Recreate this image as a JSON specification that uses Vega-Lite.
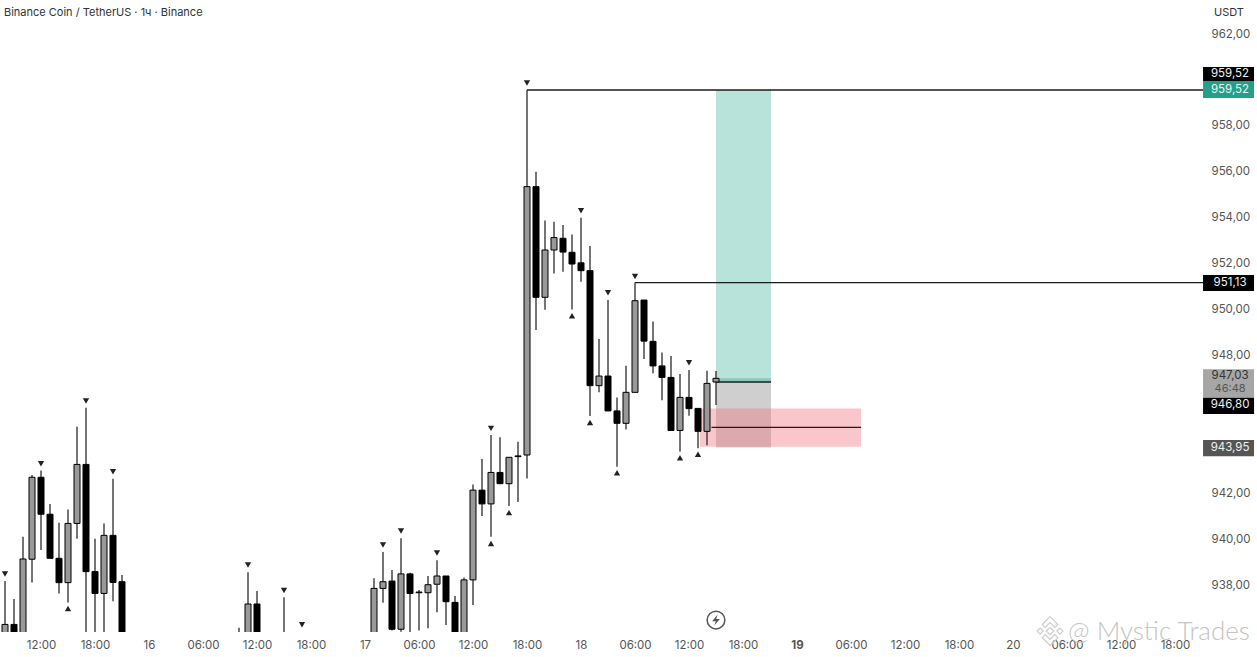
{"$schema":"https://vega.github.io/schema/vega-lite/v6.json","width":1257,"height":632,"autosize":{"type":"none"},"padding":{"left":0,"top":0,"right":0,"bottom":25},"background":"#ffffff","config":{"view":{"stroke":null},"font":"Inter"},"resolve":{"scale":{"color":"independent","shape":"independent"}},"datasets":{"candles":[
{"t":"2025-10-15T08:00:00Z","high":938.13,"open":935.5,"close":936.24,"low":935.5},
{"t":"2025-10-15T09:00:00Z","high":937.35,"open":936.24,"close":935.5,"low":935.5},
{"t":"2025-10-15T10:00:00Z","high":940.06,"open":935.5,"close":939.09,"low":935.5},
{"t":"2025-10-15T11:00:00Z","high":942.75,"open":939.08,"close":942.65,"low":938.07},
{"t":"2025-10-15T12:00:00Z","high":942.94,"open":942.65,"close":941.04,"low":939.48},
{"t":"2025-10-15T13:00:00Z","high":941.49,"open":941.04,"close":939.12,"low":939.12},
{"t":"2025-10-15T14:00:00Z","high":940.67,"open":939.12,"close":938.06,"low":937.59},
{"t":"2025-10-15T15:00:00Z","high":941.25,"open":938.06,"close":940.64,"low":937.2},
{"t":"2025-10-15T16:00:00Z","high":944.85,"open":940.64,"close":943.21,"low":939.97},
{"t":"2025-10-15T17:00:00Z","high":945.68,"open":943.21,"close":938.54,"low":935.5},
{"t":"2025-10-15T18:00:00Z","high":939.97,"open":938.54,"close":937.59,"low":935.5},
{"t":"2025-10-15T19:00:00Z","high":940.64,"open":937.59,"close":940.12,"low":935.5},
{"t":"2025-10-15T20:00:00Z","high":942.59,"open":940.12,"close":938.07,"low":937.25},
{"t":"2025-10-15T21:00:00Z","high":938.39,"open":938.1,"close":935.5,"low":935.5},
{"t":"2025-10-16T10:00:00Z","high":936.09,"open":935.2,"close":935.0,"low":934.9},
{"t":"2025-10-16T11:00:00Z","high":938.51,"open":935.5,"close":937.13,"low":935.5},
{"t":"2025-10-16T12:00:00Z","high":937.7,"open":937.13,"close":935.5,"low":935.5},
{"t":"2025-10-16T15:00:00Z","high":937.42,"open":935.2,"close":935.0,"low":934.9},
{"t":"2025-10-17T01:00:00Z","high":938.25,"open":935.5,"close":937.81,"low":935.5},
{"t":"2025-10-17T02:00:00Z","high":939.4,"open":937.81,"close":938.1,"low":937.18},
{"t":"2025-10-17T03:00:00Z","high":938.61,"open":938.13,"close":936.03,"low":935.97},
{"t":"2025-10-17T04:00:00Z","high":939.99,"open":936.03,"close":938.44,"low":935.92},
{"t":"2025-10-17T05:00:00Z","high":938.49,"open":938.44,"close":937.59,"low":935.5},
{"t":"2025-10-17T06:00:00Z","high":937.74,"open":937.65,"close":937.62,"low":935.97},
{"t":"2025-10-17T07:00:00Z","high":938.35,"open":937.62,"close":937.97,"low":936.07},
{"t":"2025-10-17T08:00:00Z","high":939.03,"open":937.99,"close":938.35,"low":936.77},
{"t":"2025-10-17T09:00:00Z","high":938.35,"open":938.35,"close":937.23,"low":936.21},
{"t":"2025-10-17T10:00:00Z","high":937.48,"open":937.2,"close":935.5,"low":935.5},
{"t":"2025-10-17T11:00:00Z","high":938.28,"open":935.5,"close":938.18,"low":935.5},
{"t":"2025-10-17T12:00:00Z","high":942.34,"open":938.18,"close":942.09,"low":937.09},
{"t":"2025-10-17T13:00:00Z","high":943.45,"open":942.09,"close":941.49,"low":940.96},
{"t":"2025-10-17T14:00:00Z","high":944.49,"open":941.49,"close":942.86,"low":940.06},
{"t":"2025-10-17T15:00:00Z","high":944.39,"open":942.86,"close":942.37,"low":942.37},
{"t":"2025-10-17T16:00:00Z","high":943.52,"open":942.37,"close":943.52,"low":941.4},
{"t":"2025-10-17T17:00:00Z","high":944.2,"open":943.58,"close":943.55,"low":941.57},
{"t":"2025-10-17T18:00:00Z","high":959.52,"open":943.62,"close":955.31,"low":942.6},
{"t":"2025-10-17T19:00:00Z","high":955.96,"open":955.31,"close":950.49,"low":949.06},
{"t":"2025-10-17T20:00:00Z","high":953.83,"open":950.49,"close":952.55,"low":949.95},
{"t":"2025-10-17T21:00:00Z","high":953.78,"open":952.55,"close":953.09,"low":951.53},
{"t":"2025-10-17T22:00:00Z","high":953.64,"open":953.06,"close":952.46,"low":951.6},
{"t":"2025-10-17T23:00:00Z","high":953.22,"open":952.45,"close":951.94,"low":949.96},
{"t":"2025-10-18T00:00:00Z","high":953.96,"open":951.99,"close":951.65,"low":951.17},
{"t":"2025-10-18T01:00:00Z","high":952.72,"open":951.65,"close":946.64,"low":945.32},
{"t":"2025-10-18T02:00:00Z","high":948.67,"open":946.64,"close":947.06,"low":946.35},
{"t":"2025-10-18T03:00:00Z","high":950.37,"open":947.06,"close":945.54,"low":945.54},
{"t":"2025-10-18T04:00:00Z","high":946.12,"open":945.54,"close":945.0,"low":943.11},
{"t":"2025-10-18T05:00:00Z","high":947.51,"open":945.0,"close":946.35,"low":944.73},
{"t":"2025-10-18T06:00:00Z","high":951.13,"open":946.35,"close":950.34,"low":946.35},
{"t":"2025-10-18T07:00:00Z","high":950.37,"open":950.37,"close":948.58,"low":947.8},
{"t":"2025-10-18T08:00:00Z","high":949.43,"open":948.57,"close":947.5,"low":947.18},
{"t":"2025-10-18T09:00:00Z","high":948.09,"open":947.5,"close":947.0,"low":946.01},
{"t":"2025-10-18T10:00:00Z","high":947.93,"open":947.0,"close":944.69,"low":944.69},
{"t":"2025-10-18T11:00:00Z","high":947.15,"open":944.69,"close":946.13,"low":943.76},
{"t":"2025-10-18T12:00:00Z","high":947.32,"open":946.13,"close":945.64,"low":945.33},
{"t":"2025-10-18T13:00:00Z","high":945.65,"open":945.65,"close":944.65,"low":943.91},
{"t":"2025-10-18T14:00:00Z","high":947.29,"open":944.65,"close":946.74,"low":944.05},
{"t":"2025-10-18T15:00:00Z","high":947.28,"open":946.8,"close":946.96,"low":945.8}
],"pivots":[
{"t":"2025-10-15T08:00:00Z","p":938.44,"side":"above"},
{"t":"2025-10-15T12:00:00Z","p":943.24,"side":"above"},
{"t":"2025-10-15T15:00:00Z","p":936.93,"side":"below"},
{"t":"2025-10-15T17:00:00Z","p":945.97,"side":"above"},
{"t":"2025-10-15T20:00:00Z","p":942.89,"side":"above"},
{"t":"2025-10-16T11:00:00Z","p":938.83,"side":"above"},
{"t":"2025-10-16T15:00:00Z","p":937.72,"side":"above"},
{"t":"2025-10-16T17:00:00Z","p":936.23,"side":"above"},
{"t":"2025-10-17T02:00:00Z","p":939.7,"side":"above"},
{"t":"2025-10-17T04:00:00Z","p":940.31,"side":"above"},
{"t":"2025-10-17T08:00:00Z","p":939.35,"side":"above"},
{"t":"2025-10-17T14:00:00Z","p":944.78,"side":"above"},
{"t":"2025-10-17T14:00:00Z","p":939.77,"side":"below"},
{"t":"2025-10-17T16:00:00Z","p":941.11,"side":"below"},
{"t":"2025-10-17T18:00:00Z","p":959.82,"side":"above"},
{"t":"2025-10-17T23:00:00Z","p":949.69,"side":"below"},
{"t":"2025-10-18T00:00:00Z","p":954.26,"side":"above"},
{"t":"2025-10-18T01:00:00Z","p":945.04,"side":"below"},
{"t":"2025-10-18T03:00:00Z","p":950.69,"side":"above"},
{"t":"2025-10-18T04:00:00Z","p":942.85,"side":"below"},
{"t":"2025-10-18T06:00:00Z","p":951.4,"side":"above"},
{"t":"2025-10-18T11:00:00Z","p":943.5,"side":"below"},
{"t":"2025-10-18T12:00:00Z","p":947.64,"side":"above"},
{"t":"2025-10-18T13:00:00Z","p":943.65,"side":"below"}
],"zones":[
{"start":"2025-10-18T15:00:00Z","end":"2025-10-18T21:07:00Z","top":959.52,"bottom":946.8,"zone":"target"},
{"start":"2025-10-18T15:00:00Z","end":"2025-10-18T21:07:00Z","top":946.96,"bottom":946.8,"zone":"edge"},
{"start":"2025-10-18T15:00:00Z","end":"2025-10-18T21:07:00Z","top":946.8,"bottom":943.95,"zone":"risk"},
{"start":"2025-10-18T13:13:00Z","end":"2025-10-19T07:07:00Z","top":945.65,"bottom":943.98,"zone":"stop"}
],"levels":[
{"start":"2025-10-17T18:00:00Z","end":"2025-10-20T21:07:00Z","p":959.52},
{"start":"2025-10-18T06:00:00Z","end":"2025-10-20T21:07:00Z","p":951.13},
{"start":"2025-10-18T15:00:00Z","end":"2025-10-18T21:07:00Z","p":946.8},
{"start":"2025-10-18T14:30:00Z","end":"2025-10-19T07:07:00Z","p":944.82}
],"tags":[
{"start":"2025-10-20T21:07:00Z","end":"2025-10-21T02:47:00Z","tx":"2025-10-21T00:07:00Z","top":960.52,"bottom":959.91,"kind":"black","mid":960.21,"label":"959,52"},
{"start":"2025-10-20T21:07:00Z","end":"2025-10-21T02:47:00Z","tx":"2025-10-21T00:07:00Z","top":959.91,"bottom":959.17,"kind":"teal","mid":959.52,"label":"959,52"},
{"start":"2025-10-20T21:07:00Z","end":"2025-10-21T02:47:00Z","tx":"2025-10-21T00:07:00Z","top":951.46,"bottom":950.76,"kind":"black","mid":951.11,"label":"951,13"},
{"start":"2025-10-20T21:07:00Z","end":"2025-10-21T02:47:00Z","tx":"2025-10-21T00:07:00Z","top":947.35,"bottom":946.11,"kind":"gray","mid":947.06,"label":"947,03"},
{"start":"2025-10-20T21:07:00Z","end":"2025-10-21T02:47:00Z","tx":"2025-10-21T00:07:00Z","top":946.11,"bottom":945.41,"kind":"black","mid":945.78,"label":"946,80"},
{"start":"2025-10-20T21:07:00Z","end":"2025-10-21T02:47:00Z","tx":"2025-10-21T00:07:00Z","top":944.27,"bottom":943.57,"kind":"slate","mid":943.92,"label":"943,95"}
],"extraText":[
{"t":"2025-10-21T00:07:00Z","p":946.49,"label":"46:48","c":"gray"},
{"t":"2025-10-21T00:00:00Z","p":962.88,"label":"USDT","c":"dark"}
]},
"layer":[
{"data":{"name":"zones"},"mark":{"type":"rect"},"encoding":{"x":{"field":"start","type":"temporal","scale":{"type":"utc","domain":["2025-10-15T07:26:40Z","2025-10-21T03:06:40Z"],"nice":false,"padding":0},"axis":{"orient":"bottom","title":null,"domain":false,"ticks":false,"grid":false,"labelColor":"#555555","labelFont":"Inter","labelFontSize":11.5,"labelPadding":7,"labelFlush":false,"labelOverlap":false,"labelFontWeight":{"condition":{"test":"utcdate(datum.value)==19 && utchours(datum.value)==0","value":"bold"},"value":"normal"},"values":["2025-10-15T12:00:00Z","2025-10-15T18:00:00Z","2025-10-16T00:00:00Z","2025-10-16T06:00:00Z","2025-10-16T12:00:00Z","2025-10-16T18:00:00Z","2025-10-17T00:00:00Z","2025-10-17T06:00:00Z","2025-10-17T12:00:00Z","2025-10-17T18:00:00Z","2025-10-18T00:00:00Z","2025-10-18T06:00:00Z","2025-10-18T12:00:00Z","2025-10-18T18:00:00Z","2025-10-19T00:00:00Z","2025-10-19T06:00:00Z","2025-10-19T12:00:00Z","2025-10-19T18:00:00Z","2025-10-20T00:00:00Z","2025-10-20T06:00:00Z","2025-10-20T12:00:00Z","2025-10-20T18:00:00Z"],"labelExpr":"utchours(datum.value)==0 ? utcFormat(datum.value,'%-d') : utcFormat(datum.value,'%H:%M')"}},"x2":{"field":"end"},"y":{"field":"top","type":"quantitative","scale":{"domain":[935.91,963.44],"nice":false,"zero":false,"padding":0},"axis":{"orient":"right","offset":-46,"title":null,"domain":false,"ticks":false,"grid":false,"labelColor":"#555555","labelFont":"Inter","labelFontSize":11.5,"labelPadding":0,"labelOffset":1,"labelAlign":"left","labelOverlap":false,"values":[938,940,942,948,950,952,954,956,958,962],"labelExpr":"replace(format(datum.value,'.2f'),'.',',')"}},"y2":{"field":"bottom"},"color":{"field":"zone","type":"nominal","legend":null,"scale":{"domain":["target","edge","risk","stop"],"range":["#b8e3db","#8dc7bd","#cfcfcf","rgba(240,112,127,0.4)"]}}}},
{"data":{"name":"levels"},"mark":{"type":"rule","color":"#1c1c1c","strokeWidth":1.3},"encoding":{"x":{"field":"start","type":"temporal"},"x2":{"field":"end"},"y":{"field":"p","type":"quantitative"}}},
{"data":{"name":"candles"},"mark":{"type":"rule","color":"#2b2b2b","strokeWidth":1.3,"clip":true},"encoding":{"x":{"field":"t","type":"temporal"},"y":{"field":"low","type":"quantitative"},"y2":{"field":"high"}}},
{"data":{"name":"candles"},"mark":{"type":"bar","size":6,"stroke":"#000000","strokeWidth":1,"clip":true},"encoding":{"x":{"field":"t","type":"temporal"},"y":{"field":"open","type":"quantitative"},"y2":{"field":"close"},"fill":{"condition":{"test":"datum.close >= datum.open","value":"#999999"},"value":"#000000"}}},
{"data":{"name":"pivots"},"mark":{"type":"point","filled":true,"color":"#222222","size":40,"opacity":1},"encoding":{"x":{"field":"t","type":"temporal"},"y":{"field":"p","type":"quantitative"},"shape":{"field":"side","type":"nominal","legend":null,"scale":{"domain":["above","below"],"range":["triangle-down","triangle-up"]}}}},
{"data":{"name":"tags"},"mark":{"type":"rect"},"encoding":{"x":{"field":"start","type":"temporal"},"x2":{"field":"end"},"y":{"field":"top","type":"quantitative"},"y2":{"field":"bottom"},"color":{"field":"kind","type":"nominal","legend":null,"scale":{"domain":["black","teal","gray","slate"],"range":["#000000","#22a08a","#a6a6a6","#555555"]}}}},
{"data":{"name":"tags"},"mark":{"type":"text","font":"Inter","fontSize":11.5,"align":"center","baseline":"middle"},"encoding":{"x":{"field":"tx","type":"temporal"},"y":{"field":"mid","type":"quantitative"},"text":{"field":"label"},"color":{"condition":{"test":"datum.kind=='gray'","value":"#333333"},"value":"#f0f0f0"}}},
{"data":{"name":"extraText"},"mark":{"type":"text","font":"Inter","fontSize":11,"align":"center","baseline":"middle"},"encoding":{"x":{"field":"t","type":"temporal"},"y":{"field":"p","type":"quantitative"},"text":{"field":"label"},"color":{"condition":{"test":"datum.c=='gray'","value":"#555555"},"value":"#333333"}}},
{"data":{"values":[{"t":"2025-10-15T07:53:00Z","p":962.88,"label":"Binance Coin / TetherUS · 1ч · Binance"}]},"mark":{"type":"text","font":"Inter","fontSize":11,"align":"left","baseline":"middle","color":"#333333"},"encoding":{"x":{"field":"t","type":"temporal"},"y":{"field":"p","type":"quantitative"},"text":{"field":"label"}}},
{"data":{"values":[{"t":"2025-10-18T15:00:00Z","p":936.43}]},"mark":{"type":"point","shape":"circle","filled":false,"stroke":"#555555","strokeWidth":1.5,"size":314,"opacity":1},"encoding":{"x":{"field":"t","type":"temporal"},"y":{"field":"p","type":"quantitative"}}},
{"data":{"values":[{"t":"2025-10-18T15:00:00Z","p":936.43}]},"mark":{"type":"point","shape":"M0.15,-0.5 L-0.35,0.1 L-0.02,0.1 L-0.15,0.5 L0.35,-0.1 L0.02,-0.1 Z","filled":true,"fill":"#555555","size":484,"opacity":1},"encoding":{"x":{"field":"t","type":"temporal"},"y":{"field":"p","type":"quantitative"}}},
{"data":{"values":[{"t":"2025-10-20T04:07:00Z","p":935.95}]},"mark":{"type":"point","shape":"M0,-0.12 L0.12,0 L0,0.12 L-0.12,0 Z M-0.33,-0.1 L-0.23,0 L-0.33,0.1 L-0.43,0 Z M0.33,-0.1 L0.43,0 L0.33,0.1 L0.23,0 Z M0,-0.48 L0.26,-0.22 L0.16,-0.12 L0,-0.28 L-0.16,-0.12 L-0.26,-0.22 Z M0,0.48 L0.26,0.22 L0.16,0.12 L0,0.28 L-0.16,0.12 L-0.26,0.22 Z","filled":false,"stroke":"#cccccc","strokeWidth":1.2,"size":3600,"opacity":1,"clip":false},"encoding":{"x":{"field":"t","type":"temporal"},"y":{"field":"p","type":"quantitative"}}},
{"data":{"values":[{"t":"2025-10-20T06:07:00Z","p":935.91,"label":"@ Mystic Trades"}]},"mark":{"type":"text","font":"Lato","fontWeight":300,"fontSize":26,"align":"left","baseline":"middle","color":"#c4c4c4"},"encoding":{"x":{"field":"t","type":"temporal"},"y":{"field":"p","type":"quantitative"},"text":{"field":"label"}}}
]}
